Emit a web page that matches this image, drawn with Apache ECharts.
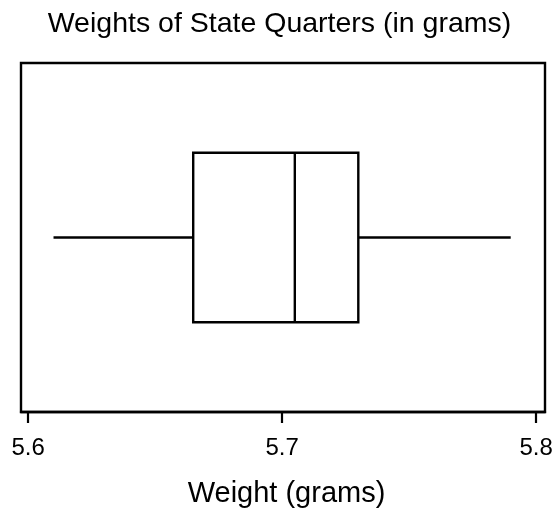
<!DOCTYPE html>
<html>
<head>
<meta charset="utf-8">
<style>
html,body{margin:0;padding:0;background:#fff;}
#chart{width:559px;height:516px;}
</style>
<script src="https://cdn.jsdelivr.net/npm/echarts@6/dist/echarts.min.js"></script>
</head>
<body>
<div id="chart"></div>
<script>
// Data
const categories = ['State Quarters'];
const boxStats = [[5.610, 5.665, 5.705, 5.730, 5.790]]; // min, Q1, median, Q3, max
const tickValues = [5.6, 5.7, 5.8];
const titleText = 'Weights of State Quarters (in grams)';
const axisTitle = 'Weight (grams)';

const FONT = '"Liberation Sans", Arial, Helvetica, sans-serif';
const chart = echarts.init(document.getElementById('chart'), null, {renderer: 'canvas'});

const seriesData = boxStats.map((s, i) => [i].concat(s));

chart.setOption({
  animation: false,
  backgroundColor: '#ffffff',
  title: {
    text: titleText,
    left: 'center',
    top: 5,
    textStyle: {fontFamily: FONT, fontSize: 28.5, fontWeight: 'normal', color: '#000'}
  },
  grid: {
    left: 21, right: 14, top: 63, bottom: 104,
    show: true, borderColor: '#000', borderWidth: 2.4, backgroundColor: 'transparent'
  },
  xAxis: {
    type: 'value',
    min: 5.5972, max: 5.8035,
    name: axisTitle,
    nameLocation: 'middle',
    nameGap: 67,
    nameTextStyle: {fontFamily: FONT, fontSize: 29, color: '#000', padding: [0, 0, 0, 7]},
    axisLine: {show: true, lineStyle: {color: '#000', width: 2.4}},
    axisTick: {show: true, length: 11, lineStyle: {color: '#000', width: 2.2}, customValues: tickValues},
    axisLabel: {
      fontFamily: FONT, fontSize: 24, color: '#000', margin: 24,
      customValues: tickValues,
      formatter: v => v.toFixed(1)
    },
    splitLine: {show: false}
  },
  yAxis: {
    type: 'category',
    data: categories,
    show: false
  },
  series: [{
    type: 'custom',
    data: seriesData,
    encode: {x: [1, 2, 3, 4, 5], y: 0},
    renderItem: function (params, api) {
      const cat = api.value(0);
      const y = api.coord([api.value(1), cat])[1];
      const band = api.size([0, 1])[1];
      const half = band * 0.486 / 2;
      const xs = [1, 2, 3, 4, 5].map(k => api.coord([api.value(k), cat])[0]);
      const st = {stroke: '#000', lineWidth: 2.4, fill: null};
      return {
        type: 'group',
        children: [
          {type: 'line', shape: {x1: xs[0], y1: y, x2: xs[1], y2: y}, style: st},
          {type: 'rect', shape: {x: xs[1], y: y - half, width: xs[3] - xs[1], height: 2 * half}, style: {stroke: '#000', lineWidth: 2.4, fill: 'none'}},
          {type: 'line', shape: {x1: xs[2], y1: y - half, x2: xs[2], y2: y + half}, style: st},
          {type: 'line', shape: {x1: xs[3], y1: y, x2: xs[4], y2: y}, style: st}
        ]
      };
    }
  }]
});
</script>
</body>
</html>
